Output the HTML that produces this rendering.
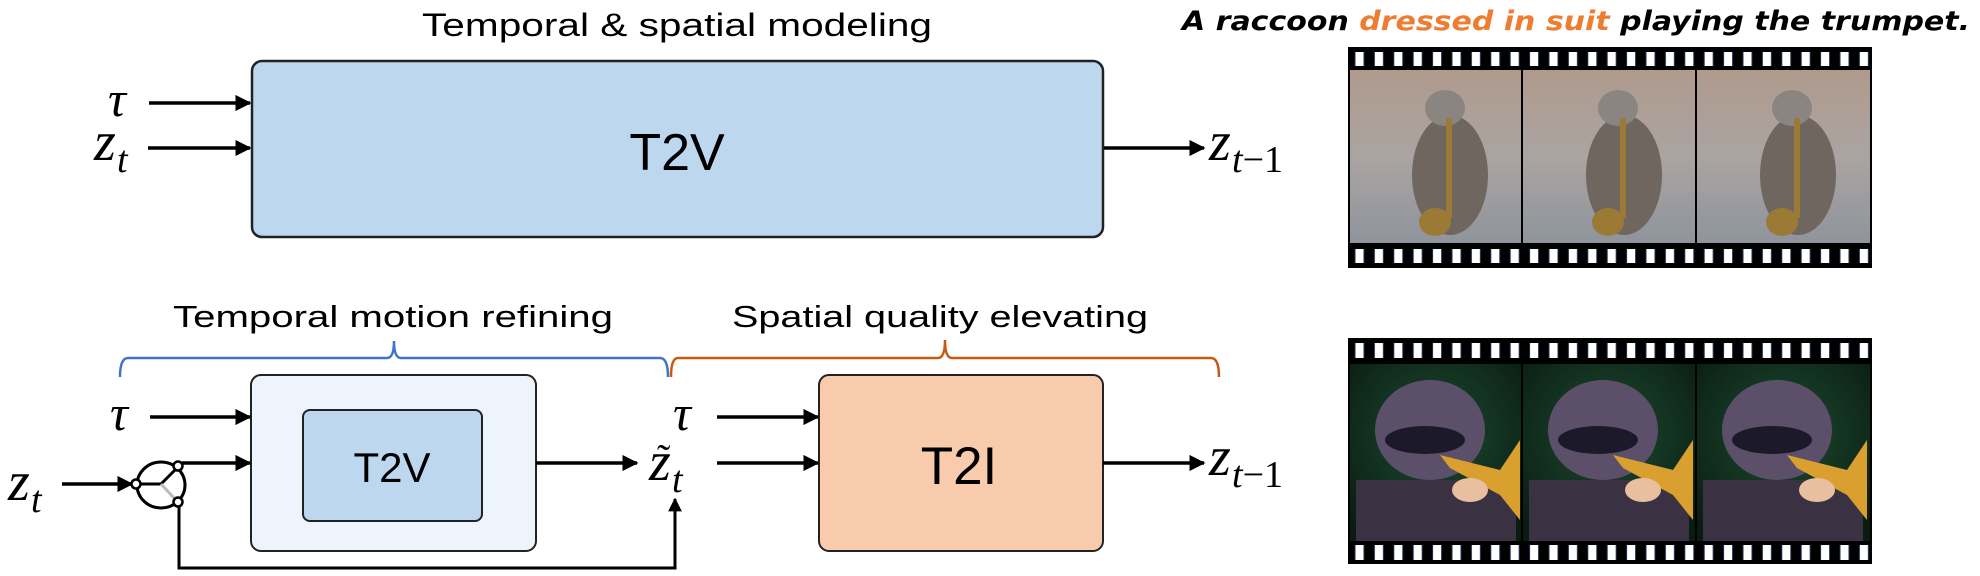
<!DOCTYPE html>
<html><head><meta charset="utf-8"><style>
html,body{margin:0;padding:0;background:#fff;}
svg{display:block;}
.lab{font-family:"Liberation Sans",sans-serif;fill:#000;}
.m{font-family:"Liberation Serif",serif;font-style:italic;fill:#000;}
</style></head><body>
<svg width="1980" height="576" viewBox="0 0 1980 576" xmlns="http://www.w3.org/2000/svg">
<defs>
<marker id="ah" viewBox="0 0 10 10" refX="9" refY="5" markerWidth="4.6" markerHeight="4.6" markerUnits="strokeWidth" orient="auto">
<path d="M0,0 L10,5 L0,10 z" fill="#000"/></marker>
<pattern id="spr" x="1348" y="0" width="19.4" height="576" patternUnits="userSpaceOnUse">
<rect x="7" y="0" width="9" height="576" fill="#fff" stroke="#1f3050" stroke-width="1"/></pattern>
<linearGradient id="g1" x1="0" y1="0" x2="0" y2="1"><stop offset="0" stop-color="#b09a8c"/><stop offset="0.5" stop-color="#aaa4a2"/><stop offset="1" stop-color="#8f949c"/></linearGradient>
<radialGradient id="g2" cx="0.5" cy="0.4" r="0.7"><stop offset="0" stop-color="#1d4a30"/><stop offset="1" stop-color="#0a1c12"/></radialGradient>
</defs>

<!-- Top section -->
<text class="lab" x="422" y="36" font-size="32" textLength="510" lengthAdjust="spacingAndGlyphs">Temporal &amp; spatial modeling</text>
<rect x="252" y="61" width="851" height="176" rx="10" fill="#BDD7EE" stroke="#222" stroke-width="2.5"/>
<text class="lab" x="677" y="170" font-size="52" text-anchor="middle">T2V</text>

<line x1="149" y1="103" x2="250" y2="103" stroke="#000" stroke-width="3.5" marker-end="url(#ah)"/>
<line x1="148" y1="148" x2="250" y2="148" stroke="#000" stroke-width="3.5" marker-end="url(#ah)"/>
<text class="m" x="108" y="116" font-size="50">τ</text>
<text class="m" x="94" y="160" font-size="56">z</text>
<text class="m" x="117" y="172" font-size="38">t</text>

<line x1="1104" y1="148" x2="1204" y2="148" stroke="#000" stroke-width="3.5" marker-end="url(#ah)"/>
<text class="m" x="1209" y="160" font-size="56">z</text>
<text class="m" x="1232" y="172" font-size="38">t<tspan font-style="normal">−1</tspan></text>

<!-- caption -->
<text x="1182" y="30" font-family="'DejaVu Sans',sans-serif" font-weight="bold" font-style="oblique" font-size="27" textLength="788" lengthAdjust="spacingAndGlyphs" fill="#000">A raccoon <tspan fill="#ED7D31">dressed in suit</tspan> playing the trumpet.</text>

<!-- film 1 -->
<g>
<rect x="1348" y="47" width="524" height="221" fill="#000"/>
<rect x="1348" y="52" width="524" height="14" fill="url(#spr)"/>
<rect x="1348" y="249" width="524" height="14" fill="url(#spr)"/>
<rect x="1350" y="70" width="171" height="173" fill="url(#g1)"/>
<rect x="1523" y="70" width="172" height="173" fill="url(#g1)"/>
<rect x="1697" y="70" width="173" height="173" fill="url(#g1)"/>
<g fill="#6f675f">
<ellipse cx="1450" cy="175" rx="38" ry="60"/><ellipse cx="1624" cy="175" rx="38" ry="60"/><ellipse cx="1798" cy="175" rx="38" ry="60"/></g>
<g fill="#8a8580"><ellipse cx="1445" cy="108" rx="20" ry="18"/><ellipse cx="1618" cy="108" rx="20" ry="18"/><ellipse cx="1792" cy="108" rx="20" ry="18"/></g>
<g fill="#9a7a35"><ellipse cx="1435" cy="222" rx="16" ry="14"/><ellipse cx="1608" cy="222" rx="16" ry="14"/><ellipse cx="1782" cy="222" rx="16" ry="14"/>
<rect x="1446" y="118" width="6" height="100"/><rect x="1620" y="118" width="6" height="100"/><rect x="1794" y="118" width="6" height="100"/></g>
</g>

<!-- film 2 -->
<g>
<rect x="1348" y="338" width="524" height="226" fill="#000"/>
<rect x="1348" y="343" width="524" height="15" fill="url(#spr)"/>
<rect x="1348" y="545" width="524" height="15" fill="url(#spr)"/>
<rect x="1350" y="364" width="171" height="177" fill="url(#g2)"/>
<rect x="1523" y="364" width="172" height="177" fill="url(#g2)"/>
<rect x="1697" y="364" width="173" height="177" fill="url(#g2)"/>
<g fill="#3a3242"><rect x="1356" y="480" width="160" height="61"/><rect x="1529" y="480" width="160" height="61"/><rect x="1703" y="480" width="160" height="61"/></g>
<g fill="#5c4f6a"><ellipse cx="1430" cy="430" rx="55" ry="50"/><ellipse cx="1603" cy="430" rx="55" ry="50"/><ellipse cx="1777" cy="430" rx="55" ry="50"/></g>
<g fill="#1c1a2a"><ellipse cx="1425" cy="440" rx="40" ry="14"/><ellipse cx="1598" cy="440" rx="40" ry="14"/><ellipse cx="1772" cy="440" rx="40" ry="14"/></g>
<g fill="#d9a030"><path d="M1440,455 L1500,470 L1520,440 L1520,520 L1500,495 L1450,468 z"/><path d="M1613,455 L1673,470 L1693,440 L1693,520 L1673,495 L1623,468 z"/><path d="M1787,455 L1847,470 L1867,440 L1867,520 L1847,495 L1797,468 z"/></g>
<g fill="#e8c0a0"><ellipse cx="1470" cy="490" rx="18" ry="12"/><ellipse cx="1643" cy="490" rx="18" ry="12"/><ellipse cx="1817" cy="490" rx="18" ry="12"/></g>
</g>

<!-- Bottom section -->
<text class="lab" x="173" y="327" font-size="31" textLength="440" lengthAdjust="spacingAndGlyphs">Temporal motion refining</text>
<text class="lab" x="732" y="327" font-size="31" textLength="416" lengthAdjust="spacingAndGlyphs">Spatial quality elevating</text>

<path d="M120,377 Q120,358 128,358 H387 Q394,358 394,341 Q394,358 401,358 H660 Q668,358 668,377" fill="none" stroke="#4472C4" stroke-width="2.5"/>
<path d="M671,377 Q671,358 678,358 H938 Q945,358 945,340 Q945,358 952,358 H1211 Q1219,358 1219,377" fill="none" stroke="#C55A11" stroke-width="2.5"/>

<rect x="251" y="375" width="285" height="176" rx="10" fill="#EEF4FB" stroke="#222" stroke-width="2"/>
<rect x="303" y="410" width="179" height="111" rx="7" fill="#BDD7EE" stroke="#222" stroke-width="2"/>
<text class="lab" x="392" y="482" font-size="42" text-anchor="middle">T2V</text>

<rect x="819" y="375" width="284" height="176" rx="10" fill="#F8CBAD" stroke="#222" stroke-width="2"/>
<text class="lab" x="959" y="484" font-size="53" text-anchor="middle">T2I</text>

<!-- left inputs -->
<text class="m" x="110" y="430" font-size="50">τ</text>
<line x1="150" y1="417" x2="250" y2="417" stroke="#000" stroke-width="3.5" marker-end="url(#ah)"/>
<text class="m" x="8" y="500" font-size="56">z</text>
<text class="m" x="31" y="512" font-size="38">t</text>
<line x1="62" y1="484" x2="132" y2="484" stroke="#000" stroke-width="3.5" marker-end="url(#ah)"/>

<!-- switch -->
<ellipse cx="161" cy="485" rx="24" ry="23" fill="none" stroke="#000" stroke-width="3"/>
<line x1="140" y1="484" x2="161" y2="484" stroke="#000" stroke-width="3"/>
<line x1="161" y1="484" x2="175" y2="470" stroke="#000" stroke-width="3"/>
<line x1="161" y1="484" x2="175" y2="499" stroke="#bbb" stroke-width="3"/>
<circle cx="136" cy="484" r="4.5" fill="#fff" stroke="#000" stroke-width="2.5"/>
<circle cx="178" cy="466" r="4.5" fill="#fff" stroke="#000" stroke-width="2.5"/>
<circle cx="178" cy="502" r="4.5" fill="#fff" stroke="#000" stroke-width="2.5"/>
<line x1="182" y1="463" x2="250" y2="463" stroke="#000" stroke-width="3.5" marker-end="url(#ah)"/>
<path d="M179,507 V568 H675 V499" fill="none" stroke="#000" stroke-width="3" marker-end="url(#ah)"/>

<line x1="536" y1="463" x2="637" y2="463" stroke="#000" stroke-width="3.5" marker-end="url(#ah)"/>

<!-- z tilde t -->
<text class="m" x="673" y="430" font-size="50">τ</text>
<text class="m" x="649" y="480" font-size="56">z</text>
<text x="657" y="472" font-family="'Liberation Serif',serif" font-size="40" fill="#000">˜</text>
<text class="m" x="672" y="492" font-size="38">t</text>

<line x1="717" y1="417" x2="818" y2="417" stroke="#000" stroke-width="3.5" marker-end="url(#ah)"/>
<line x1="717" y1="463" x2="818" y2="463" stroke="#000" stroke-width="3.5" marker-end="url(#ah)"/>

<line x1="1103" y1="463" x2="1204" y2="463" stroke="#000" stroke-width="3.5" marker-end="url(#ah)"/>
<text class="m" x="1209" y="475" font-size="56">z</text>
<text class="m" x="1232" y="487" font-size="38">t<tspan font-style="normal">−1</tspan></text>
</svg>
</body></html>
